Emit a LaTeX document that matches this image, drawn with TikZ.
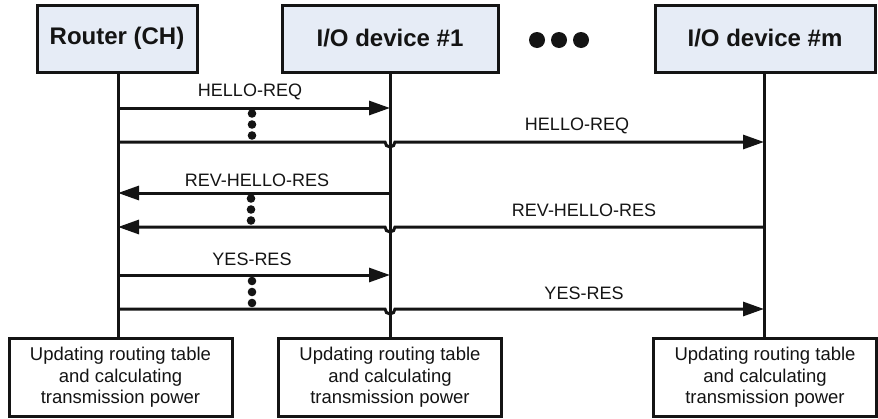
\documentclass[tikz,border=0pt]{standalone}
\usepackage{fontspec}
\setmainfont{Liberation Sans}
\usetikzlibrary{arrows.meta,calc}
\definecolor{hdrfill}{RGB}{230,236,246}
\definecolor{ink}{RGB}{20,20,20}
\begin{document}
\begin{tikzpicture}[x=1pt,y=-1pt,line width=3pt,draw=ink,
  hdr/.style={draw=ink,fill=hdrfill,minimum height=67pt,inner sep=0pt,
    font=\fontsize{24}{28}\selectfont\bfseries,text=ink},
  actbox/.style={draw=ink,fill=white,minimum width=223pt,minimum height=78pt,inner sep=0pt,
    align=center,font=\fontsize{18.5}{21.5}\selectfont,text=ink},
  msg/.style={draw=ink,-{Triangle[length=21pt,width=14pt]}},
  lifeline/.style={draw=ink},
  lbl/.style={font=\fontsize{18}{20}\selectfont,text=ink,inner sep=0pt},
  vdot/.style={fill=ink}]
\useasboundingbox (0,0) rectangle (878,418);

% headers
\node[hdr,minimum width=160pt] (rh) at (117,38.5) {Router (CH)};
\node[hdr,minimum width=216pt] (d1) at (390,38.5) {I/O device \#1};
\node[hdr,minimum width=220pt] (dm) at (765,38.5) {I/O device \#m};

% bottom boxes
\node[actbox] (rb) at (120.5,377.5) {Updating routing table\\and calculating\\transmission power};
\node[actbox] (b1) at (390,377.5) {Updating routing table\\and calculating\\transmission power};
\node[actbox] (bm) at (765,377.5) {Updating routing table\\and calculating\\transmission power};

% lifelines
\coordinate (L0) at (118,72);
\coordinate (L1) at (390,72);
\coordinate (Lm) at (764,72);
\draw[lifeline] (L0) -- (L0 |- rb.north);
\draw[lifeline] (L1) -- (L1 |- b1.north);
\draw[lifeline] (Lm) -- (Lm |- bm.north);

% ellipsis between headers
\fill[vdot] (537,40) circle (8) (559,40) circle (8) (581,40) circle (8);

% HELLO-REQ
\draw[msg] (L0 |- 0,108) -- (L1 |- 0,108);
\node[lbl] (l1) at (250,92) {HELLO-REQ};
\draw[msg] (L0 |- 0,142) -- ($(L1 |- 0,142)+(-5,0)$) arc[start angle=180,end angle=0,radius=5] -- (Lm |- 0,142);
\node[lbl] (l2) at (577,126) {HELLO-REQ};
\fill[vdot] (252,113.5) circle (4.3) (252,124.5) circle (4.3) (252,135.5) circle (4.3);

% REV-HELLO-RES
\draw[msg] (L1 |- 0,193) -- (L0 |- 0,193);
\node[lbl] (l3) at (257,180) {REV-HELLO-RES};
\draw[msg] (Lm |- 0,227) -- ($(L1 |- 0,227)+(5,0)$) arc[start angle=0,end angle=180,radius=5] -- (L0 |- 0,227);
\node[lbl] (l4) at (584,210) {REV-HELLO-RES};
\fill[vdot] (251,198.5) circle (4.3) (251,209.5) circle (4.3) (251,220.5) circle (4.3);

% YES-RES
\draw[msg] (L0 |- 0,275) -- (L1 |- 0,275);
\node[lbl] (l5) at (252,259) {YES-RES};
\draw[msg] (L0 |- 0,309) -- ($(L1 |- 0,309)+(-5,0)$) arc[start angle=180,end angle=0,radius=5] -- (Lm |- 0,309);
\node[lbl] (l6) at (584,293) {YES-RES};
\fill[vdot] (252,281) circle (4.3) (252,292) circle (4.3) (252,303) circle (4.3);
\end{tikzpicture}
\end{document}
